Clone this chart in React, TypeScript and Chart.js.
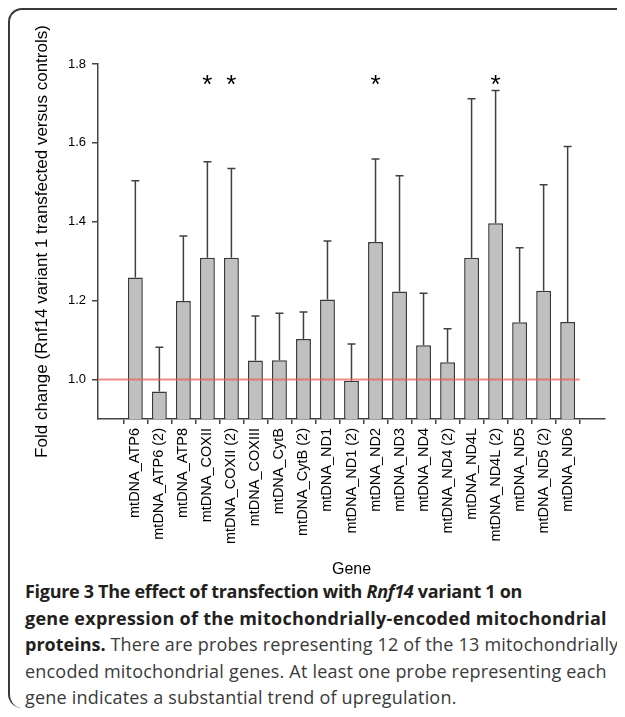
import React, { useEffect, useRef } from "react";
import { Chart, registerables } from "chart.js";

Chart.register(...registerables);

const genes = [
  "mtDNA_ATP6",
  "mtDNA_ATP6 (2)",
  "mtDNA_ATP8",
  "mtDNA_COXII",
  "mtDNA_COXII (2)",
  "mtDNA_COXIII",
  "mtDNA_CytB",
  "mtDNA_CytB (2)",
  "mtDNA_ND1",
  "mtDNA_ND1 (2)",
  "mtDNA_ND2",
  "mtDNA_ND3",
  "mtDNA_ND4",
  "mtDNA_ND4 (2)",
  "mtDNA_ND4L",
  "mtDNA_ND4L (2)",
  "mtDNA_ND5",
  "mtDNA_ND5 (2)",
  "mtDNA_ND6",
];

const foldChange = [
  1.259, 0.97, 1.199, 1.309, 1.309, 1.048, 1.049, 1.103, 1.203, 0.997, 1.349,
  1.223, 1.087, 1.044, 1.309, 1.396, 1.145, 1.225, 1.146,
];

const upperError = [
  1.504, 1.082, 1.364, 1.552, 1.535, 1.161, 1.168, 1.171, 1.351, 1.09, 1.559,
  1.517, 1.219, 1.129, 1.712, 1.733, 1.334, 1.494, 1.591,
];

const significant = [
  false, false, false, true, true, false, false, false, false, false, true,
  false, false, false, false, true, false, false, false,
];

const yTicks = [1.0, 1.2, 1.4, 1.6, 1.8];
const referenceLevel = 1.0;
const starLevel = 1.76;
const yTitle = "Fold change (Rnf14 variant 1 transfected versus controls)";
const xTitle = "Gene";

const FONT = 'Arial, "Liberation Sans", sans-serif';

const overlayPlugin = {
  id: "overlay",
  afterDatasetsDraw(chart: any) {
    const { ctx, scales, chartArea } = chart;
    const xs = scales.x;
    const ys = scales.y;
    ctx.save();
    // error bars
    ctx.strokeStyle = "#404040";
    ctx.lineWidth = 1.5;
    foldChange.forEach((v, i) => {
      const cx = xs.getPixelForValue(i);
      const y0 = ys.getPixelForValue(v);
      const y1 = ys.getPixelForValue(upperError[i]);
      ctx.beginPath();
      ctx.moveTo(cx, y0);
      ctx.lineTo(cx, y1);
      ctx.moveTo(cx - 4, y1);
      ctx.lineTo(cx + 4, y1);
      ctx.stroke();
    });
    // reference line
    const ry = ys.getPixelForValue(referenceLevel);
    ctx.strokeStyle = "rgba(240, 90, 90, 0.7)";
    ctx.lineWidth = 2;
    ctx.beginPath();
    ctx.moveTo(chartArea.left, ry);
    ctx.lineTo(xs.getPixelForValue(genes.length - 0.5), ry);
    ctx.stroke();
    // significance stars
    ctx.fillStyle = "#000";
    ctx.font = `26px ${FONT}`;
    ctx.textAlign = "center";
    ctx.textBaseline = "alphabetic";
    const m = ctx.measureText("*");
    const sy = ys.getPixelForValue(starLevel);
    const base = sy + (m.actualBoundingBoxAscent - m.actualBoundingBoxDescent) / 2;
    significant.forEach((s, i) => {
      if (s) ctx.fillText("*", xs.getPixelForValue(i), base);
    });
    // y axis title, centred on the plot area
    ctx.font = `17px ${FONT}`;
    ctx.textBaseline = "middle";
    ctx.translate(32.5, (chartArea.top + chartArea.bottom) / 2);
    ctx.rotate(-Math.PI / 2);
    ctx.fillText(yTitle, 0, 0);
    ctx.restore();
  },
};

export default function App() {
  const ref = useRef<HTMLCanvasElement>(null);

  useEffect(() => {
    const chart = new Chart(ref.current as HTMLCanvasElement, {
      type: "bar",
      data: {
        datasets: [
          {
            data: foldChange.map((v, i) => ({ x: i, y: v })),
            backgroundColor: "#c0c0c0",
            borderColor: "#3a3a3a",
            borderWidth: 1.5,
            barPercentage: 0.62,
            categoryPercentage: 1,
          },
        ],
      },
      options: {
        animation: false,
        responsive: false,
        layout: { padding: { top: 54, right: 20, left: 0, bottom: 0 } },
        plugins: {
          legend: { display: false },
          tooltip: { enabled: false },
        },
        scales: {
          x: {
            type: "linear",
            min: -1,
            max: genes.length,
            afterBuildTicks: (s: any) => {
              s.ticks = genes.map((_, i) => ({ value: i }));
            },
            afterFit: (s: any) => {
              s.height = 159;
            },
            ticks: {
              autoSkip: false,
              minRotation: 90,
              maxRotation: 90,
              padding: 4,
              color: "#000",
              font: { family: FONT, size: 14.5 },
              callback: (v: any) => genes[v] ?? "",
            },
            grid: {
              drawOnChartArea: false,
              drawTicks: true,
              tickLength: 5,
              color: "#444",
              lineWidth: 1.5,
            },
            border: { display: true, color: "#444", width: 1.5 },
            title: {
              display: true,
              text: xTitle,
              color: "#000",
              font: { family: FONT, size: 16, lineHeight: 1 },
              padding: { top: 0, bottom: 0 },
            },
          },
          y: {
            min: 0.9,
            max: 1.8,
            afterBuildTicks: (s: any) => {
              s.ticks = yTicks.map((v) => ({ value: v }));
            },
            afterFit: (s: any) => {
              s.width = 88;
            },
            ticks: {
              padding: 6,
              color: "#000",
              font: { family: FONT, size: 13 },
              callback: (v: any) => Number(v).toFixed(1),
            },
            grid: {
              drawOnChartArea: false,
              drawTicks: true,
              tickLength: 6,
              color: "#444",
              lineWidth: 1.5,
            },
            border: { display: true, color: "#444", width: 1.5 },
          },
        },
      },
      plugins: [overlayPlugin],
    } as any);
    return () => chart.destroy();
  }, []);

  return (
    <div
      style={{
        width: 615,
        height: 698,
        borderTop: "2px solid #3a3a3a",
        borderLeft: "2px solid #3a3a3a",
        borderTopLeftRadius: 14,
        borderBottomLeftRadius: 14,
      }}
    >
      <canvas ref={ref} width={615} height={568} style={{ display: "block" }} />
      <div
        style={{
          paddingLeft: 15,
          paddingTop: 0,
          fontFamily: '"Open Sans", sans-serif',
          fontSize: 18,
          lineHeight: "26.5px",
          letterSpacing: "0.2px",
          color: "#3a3a3a",
          whiteSpace: "nowrap",
        }}
      >
        <b style={{ color: "#231f20", letterSpacing: "-0.3px" }}>
          Figure 3 The effect of transfection with <i>Rnf14</i> variant 1 on
        </b>
        <br />
        <b style={{ color: "#231f20", letterSpacing: "0.27px" }}>
          gene expression of the mitochondrially-encoded mitochondrial
        </b>
        <br />
        <b style={{ color: "#231f20", letterSpacing: "0px" }}>proteins.</b>{" "}
        There are probes representing 12 of the 13 mitochondrially
        <br />
        encoded mitochondrial genes. At least one probe representing each
        <br />
        gene indicates a substantial trend of upregulation.
      </div>
    </div>
  );
}
